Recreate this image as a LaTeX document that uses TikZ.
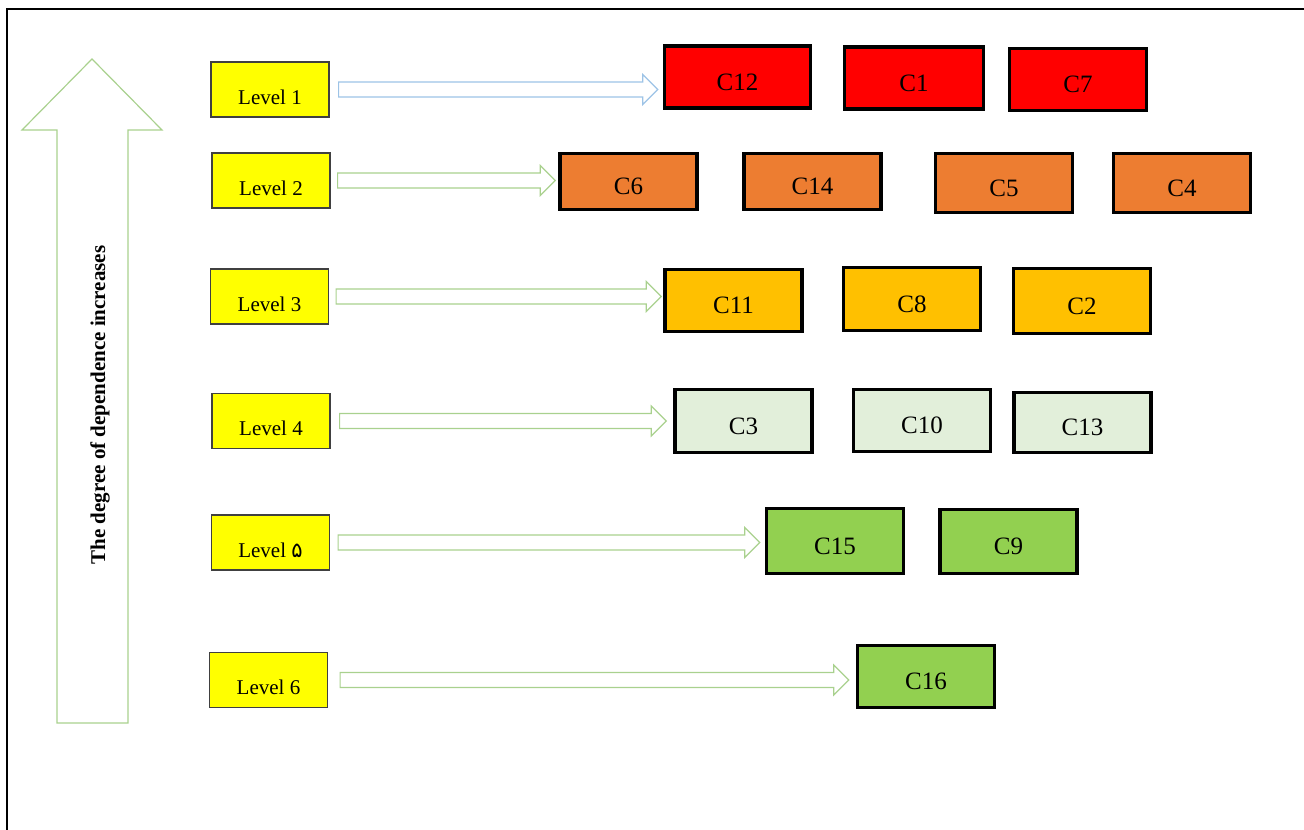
\documentclass[tikz,border=0pt]{standalone}
\usepackage{fontspec}
\setmainfont{Liberation Serif}
\newfontfamily\arabicfont[Script=Arabic]{DejaVu Sans}
\TeXXeTstate=1
\usepackage{tikz}
\usetikzlibrary{calc}
\usepackage{color}
\definecolor{lvlyellow}{HTML}{FFFF00}
\definecolor{lvlborder}{HTML}{404040}
\definecolor{cred}{HTML}{FF0000}
\definecolor{corange}{HTML}{ED7D31}
\definecolor{cgold}{HTML}{FFC000}
\definecolor{cpale}{HTML}{E2EFDA}
\definecolor{cgreen}{HTML}{92D050}
\definecolor{arrowgreen}{HTML}{A9D18E}
\definecolor{arrowblue}{HTML}{9DC3E6}

\begin{document}
\begin{tikzpicture}[x=1pt,y=-1pt,
  levelbox/.style={draw=lvlborder, fill=lvlyellow, line width=1.2pt, minimum width=118, minimum height=55, inner sep=0pt, font=\fontsize{21}{21}\selectfont, text height=29pt, text depth=0pt},
  cbox/.style={draw=black, line width=3.5pt, minimum width=137, minimum height=62, inner sep=0pt, font=\fontsize{25}{25}\selectfont, text height=26pt, text depth=0pt},
  fatarrow/.style={draw=arrowgreen, line width=1.2pt, to path={let \p1=(\tikztostart), \p2=(\tikztotarget) in (\x1,\y1+7.5pt) -- (\x2-15pt,\y1+7.5pt) -- (\x2-15pt,\y1+15pt) -- (\x2,\y1) -- (\x2-15pt,\y1-15pt) -- (\x2-15pt,\y1-7.5pt) -- (\x1,\y1-7.5pt) -- cycle}}
]
\useasboundingbox (0,0) rectangle (1304,830);
\draw[line width=1.3pt] (7,830) -- (7,9) -- (1304,9);

\draw[arrowgreen, line width=1.2pt] (92,59) -- (162,130) -- (128,130) -- (128,723) -- (57,723) -- (57,130) -- (22,130) -- cycle;
\node[rotate=90, font=\fontsize{21}{21}\selectfont\bfseries] (trend) at (100,405) {The degree of dependence increases};

\node[levelbox] (L1) at (270,89.5) {Level 1};
\node[levelbox] (L2) at (271,180.5) {Level 2};
\node[levelbox] (L3) at (269.5,296.5) {Level 3};
\node[levelbox] (L4) at (271,421) {Level 4};
\node[levelbox] (L5) at (270.5,542.5) {Level {\arabicfont\beginR ۵\endR}};
\node[levelbox] (L6) at (268.5,680) {Level 6};

\node[cbox, fill=cred, minimum width=146] (C12) at (737.5,77) {C12};
\node[cbox, fill=cred, minimum width=139] (C1) at (914,78) {C1};
\node[cbox, fill=cred] (C7) at (1078,79.5) {C7};

\node[cbox, fill=corange, minimum height=56] (C6) at (628.5,181.5) {C6};
\node[cbox, fill=corange, minimum height=56] (C14) at (812.5,181.5) {C14};
\node[cbox, fill=corange, minimum height=59] (C5) at (1004,183) {C5};
\node[cbox, fill=corange, minimum height=59] (C4) at (1182,183) {C4};

\node[cbox, fill=cgold] (C11) at (733.5,300.5) {C11};
\node[cbox, fill=cgold, minimum height=63] (C8) at (912,299) {C8};
\node[cbox, fill=cgold, minimum height=65] (C2) at (1082,301) {C2};

\node[cbox, fill=cpale, minimum height=63] (C3) at (743.5,421) {C3};
\node[cbox, fill=cpale] (C10) at (922,420.5) {C10};
\node[cbox, fill=cpale, minimum height=60] (C13) at (1082.5,422.5) {C13};

\node[cbox, fill=cgreen, minimum height=65] (C15) at (835,541) {C15};
\node[cbox, fill=cgreen, minimum height=64] (C9) at (1008.5,541.5) {C9};

\node[cbox, fill=cgreen] (C16) at (926,676.5) {C16};

\draw[fatarrow, draw=arrowblue] ([xshift=9]L1.east) to ([xshift=-5]C12.west);
\draw[fatarrow] ([xshift=7]L2.east) to ([xshift=-3]C6.west);
\draw[fatarrow] ([xshift=7]L3.east) to ([xshift=-2]C11.west);
\draw[fatarrow] ([xshift=9]L4.east) to ([xshift=-7]C3.west);
\draw[fatarrow] ([xshift=8]L5.east) to ([xshift=-5]C15.west);
\draw[fatarrow] ([xshift=12]L6.east) to ([xshift=-7]C16.west);
\end{tikzpicture}
\end{document}
